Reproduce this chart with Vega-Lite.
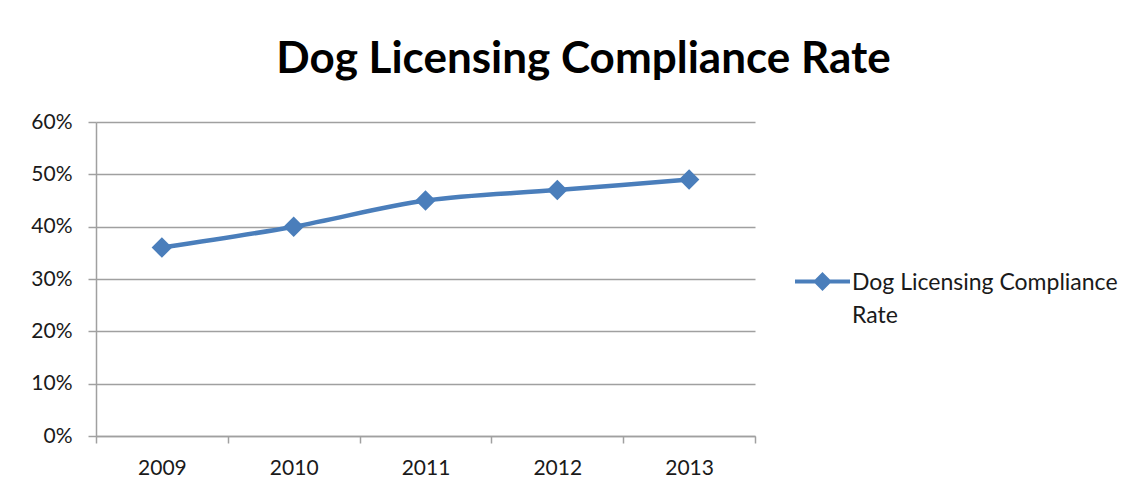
{
  "$schema": "https://vega.github.io/schema/vega-lite/v6.json",
  "width": 659,
  "height": 314,
  "autosize": {"type": "none"},
  "padding": {"left": 96, "top": 122, "right": 392, "bottom": 62},
  "background": "white",
  "config": {
    "view": {"stroke": null},
    "font": "Lato"
  },
  "title": {
    "text": "Dog Licensing Compliance Rate",
    "font": "Lato",
    "fontSize": 44,
    "fontWeight": "bold",
    "color": "#000000",
    "anchor": "middle",
    "frame": "group",
    "baseline": "alphabetic",
    "dx": 158,
    "offset": -6
  },
  "data": {
    "values": [
      {"year": "2009", "rate": 0.36, "series": "Dog Licensing Compliance Rate"},
      {"year": "2010", "rate": 0.40, "series": "Dog Licensing Compliance Rate"},
      {"year": "2011", "rate": 0.45, "series": "Dog Licensing Compliance Rate"},
      {"year": "2012", "rate": 0.47, "series": "Dog Licensing Compliance Rate"},
      {"year": "2013", "rate": 0.49, "series": "Dog Licensing Compliance Rate"}
    ]
  },
  "mark": {
    "type": "line",
    "interpolate": "monotone",
    "strokeWidth": 4.5,
    "point": {"shape": "diamond", "size": 420, "filled": true, "opacity": 1}
  },
  "encoding": {
    "x": {
      "field": "year",
      "type": "ordinal",
      "bandPosition": 0.5,
      "scale": {"type": "band", "paddingInner": 0, "paddingOuter": 0},
      "axis": {
        "title": null,
        "labelAngle": 0,
        "labelFontSize": 21,
        "labelColor": "#1a1a1a",
        "labelPadding": 14,
        "tickBand": "extent",
        "tickSize": 7,
        "tickColor": "#a0a0a0",
        "domainColor": "#a0a0a0",
        "domainWidth": 1.5,
        "tickWidth": 1.5,
        "grid": false
      }
    },
    "y": {
      "field": "rate",
      "type": "quantitative",
      "scale": {"domain": [0, 0.6], "nice": false},
      "axis": {
        "title": null,
        "format": ".0%",
        "values": [0, 0.1, 0.2, 0.3, 0.4, 0.5, 0.6],
        "labelFontSize": 21,
        "labelColor": "#1a1a1a",
        "labelPadding": 16,
        "tickSize": 8,
        "tickColor": "#a0a0a0",
        "tickWidth": 1.5,
        "domainColor": "#a0a0a0",
        "domainWidth": 1.5,
        "gridColor": "#a0a0a0",
        "gridWidth": 1.5
      }
    },
    "color": {
      "field": "series",
      "type": "nominal",
      "scale": {"range": ["#4a7ebb"]},
      "legend": {
        "title": null,
        "orient": "none",
        "legendX": 697,
        "legendY": 130,
        "labelFont": "Lato",
        "labelFontSize": 23,
        "labelColor": "#1a1a1a",
        "labelOffset": 0,
        "labelLimit": 400,
        "symbolSize": 3025,
        "symbolStrokeWidth": 4,
        "symbolType": "M-1,0H1M0,-0.24L0.24,0L0,0.24L-0.24,0Z",
        "labelExpr": "['Dog Licensing Compliance', 'Rate']",
        "encode": {
          "symbols": {
            "update": {
              "fill": {"value": "#4a7ebb"},
              "stroke": {"value": "#4a7ebb"},
              "strokeWidth": {"value": 4},
              "opacity": {"value": 1}
            }
          },
          "labels": {
            "update": {
              "baseline": {"value": "alphabetic"},
              "dy": {"value": 8},
              "lineHeight": {"value": 33}
            }
          }
        }
      }
    }
  }
}
